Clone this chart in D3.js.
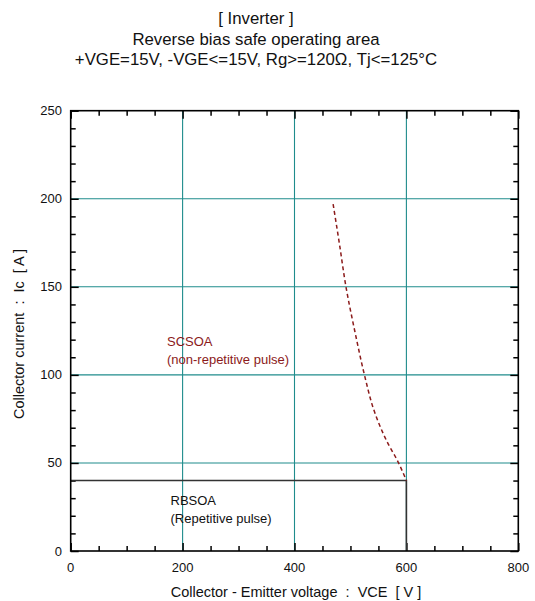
<!DOCTYPE html>
<html><head><meta charset="utf-8">
<script src="https://cdn.jsdelivr.net/npm/d3@7"></script>
<style>body{margin:0;background:#fff;} svg{display:block;font-family:"Liberation Sans",Arial,sans-serif;} text{white-space:pre;}</style>
</head><body>
<svg id="c" width="535" height="601"></svg>
<script>
const titleLines = ["[ Inverter ]", "Reverse bias safe operating area", "+VGE=15V, -VGE<=15V, Rg>=120\u03A9, Tj<=125\u00B0C"];
const xTicks = [0, 200, 400, 600, 800];
const yTicks = [0, 50, 100, 150, 200, 250];
const scsoaV = [469, 480, 492, 509, 525, 543, 564, 586, 600];
const scsoaI = [197, 175, 150, 123, 100, 79, 63, 50, 40];
const rbsoaV = [0, 600, 600];
const rbsoaI = [40, 40, 0];
const xLabel = "Collector - Emitter voltage  :  VCE  [ V ]";
const yLabel = "Collector current  :  Ic  [ A ]";

const svg = d3.select("#c");
const L = 70.7, R = 518.3, T = 110.7, B = 551;
const x = d3.scaleLinear().domain([0, 800]).range([L, R]);
const y = d3.scaleLinear().domain([0, 250]).range([B, T]);

// title
svg.append("g").selectAll("text").data(titleLines).join("text")
  .attr("x", 256).attr("y", (d, i) => 24 + i * 20.5)
  .attr("text-anchor", "middle").attr("font-size", 16.8).attr("fill", "#111").text(d => d);

// grid
const grid = svg.append("g").attr("stroke", "#1f8c8c").attr("stroke-width", 1.1);
grid.selectAll(".gx").data(xTicks.filter(d => d > 0 && d < 800)).join("line")
  .attr("x1", d => x(d)).attr("x2", d => x(d)).attr("y1", T).attr("y2", B);
grid.selectAll(".gy").data(yTicks.filter(d => d > 0 && d < 250)).join("line")
  .attr("y1", d => y(d)).attr("y2", d => y(d)).attr("x1", L).attr("x2", R);

// axes with inward ticks
const minorX = d3.range(0, 801, 50);
const minorY = d3.range(0, 251, 10);
function isMajorX(d){ return d % 200 === 0; }
function isMajorY(d){ return d % 50 === 0; }
svg.append("g").attr("transform", `translate(0,${B})`)
  .call(d3.axisBottom(x).tickValues(minorX).tickSize(0).tickFormat(""))
  .call(g => g.selectAll(".tick line").attr("y2", d => -(isMajorX(d) ? 8 : 5)).attr("stroke", "#000").attr("stroke-width", 1.5))
  .call(g => g.select(".domain").remove());
svg.append("g").attr("transform", `translate(0,${T})`)
  .call(d3.axisTop(x).tickValues(minorX).tickSize(0).tickFormat(""))
  .call(g => g.selectAll(".tick line").attr("y2", d => (isMajorX(d) ? 8 : 5)).attr("stroke", "#000").attr("stroke-width", 1.5))
  .call(g => g.select(".domain").remove());
svg.append("g").attr("transform", `translate(${L},0)`)
  .call(d3.axisLeft(y).tickValues(minorY).tickSize(0).tickFormat(""))
  .call(g => g.selectAll(".tick line").attr("x2", d => (isMajorY(d) ? 8 : 5)).attr("stroke", "#000").attr("stroke-width", 1.5))
  .call(g => g.select(".domain").remove());
svg.append("g").attr("transform", `translate(${R},0)`)
  .call(d3.axisRight(y).tickValues(minorY).tickSize(0).tickFormat(""))
  .call(g => g.selectAll(".tick line").attr("x2", d => -(isMajorY(d) ? 8 : 5)).attr("stroke", "#000").attr("stroke-width", 1.5))
  .call(g => g.select(".domain").remove());

// tick labels
svg.append("g").selectAll("text").data(xTicks).join("text")
  .attr("x", d => x(d)).attr("y", 572).attr("text-anchor", "middle").attr("font-size", 13).attr("fill", "#111").text(d => d);
svg.append("g").selectAll("text").data(yTicks).join("text")
  .attr("x", 62).attr("y", d => y(d) + 4.5).attr("text-anchor", "end").attr("font-size", 13).attr("fill", "#111").text(d => d);

// RBSOA line
const line = d3.line().x(d => x(d[0])).y(d => y(d[1]));
svg.append("path").datum(rbsoaV.map((v, i) => [v, rbsoaI[i]]))
  .attr("d", line).attr("fill", "none").attr("stroke", "#333").attr("stroke-width", 1.6);

// SCSOA dashed curve
svg.append("path").datum(scsoaV.map((v, i) => [v, scsoaI[i]]))
  .attr("d", d3.line().x(d => x(d[0])).y(d => y(d[1])).curve(d3.curveMonotoneY)).attr("fill", "none").attr("stroke", "#8b1a1a")
  .attr("stroke-width", 1.5).attr("stroke-dasharray", "4,3");

// frame
svg.append("rect").attr("x", L).attr("y", T).attr("width", R - L).attr("height", B - T)
  .attr("fill", "none").attr("stroke", "#000").attr("stroke-width", 1.6);

// annotations
const ann = svg.append("g").attr("font-size", 13);
ann.append("text").attr("x", 167).attr("y", 346).attr("fill", "#8b1a1a").text("SCSOA");
ann.append("text").attr("x", 167).attr("y", 364).attr("fill", "#8b1a1a").text("(non-repetitive pulse)");
ann.append("text").attr("x", 170.5).attr("y", 505).attr("fill", "#111").text("RBSOA");
ann.append("text").attr("x", 170.5).attr("y", 523).attr("fill", "#111").text("(Repetitive pulse)");

// axis labels
svg.append("text").attr("x", 296).attr("y", 597).attr("text-anchor", "middle").attr("font-size", 14.5).attr("fill", "#111").text(xLabel);
svg.append("text").attr("transform", "translate(24,334) rotate(-90)").attr("text-anchor", "middle").attr("font-size", 14.5).attr("fill", "#111").text(yLabel);
</script>
</body></html>
